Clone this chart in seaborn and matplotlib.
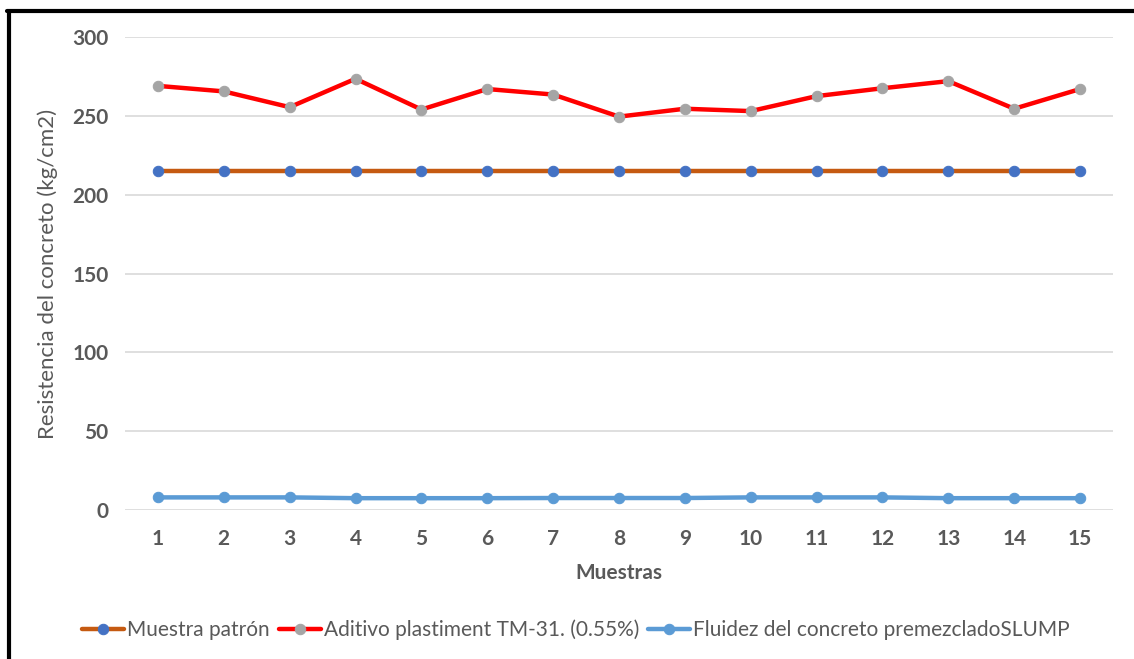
import matplotlib
matplotlib.use("Agg")
import matplotlib.pyplot as plt
from matplotlib.lines import Line2D
import seaborn as sns
import pandas as pd

muestras = list(range(1, 16))
patron = [215] * 15
aditivo = [269, 265.5, 255.5, 273.5, 254, 267, 263.5, 249.5, 254.5, 253, 262.5, 267.5, 272, 254.5, 267]
fluidez = [8.0, 8.0, 8.0, 7.5, 7.5, 7.5, 7.6, 7.6, 7.6, 8.0, 8.0, 8.0, 7.5, 7.5, 7.5]

labels = ["Muestra patrón", "Aditivo plastiment TM-31. (0.55%)", "Fluidez del concreto premezcladoSLUMP"]
y_ticks = [0, 50, 100, 150, 200, 250, 300]

sns.set_theme(style="white")
plt.rcParams["font.family"] = ["Lato", "DejaVu Sans"]

W, H = 1134, 659
fig = plt.figure(figsize=(W / 100, H / 100), dpi=100)
ax = fig.add_axes([125 / W, 1 - 510 / H, (1113 - 125) / W, (510 - 37) / H])

df = pd.DataFrame({"Muestras": muestras, "patron": patron, "aditivo": aditivo, "fluidez": fluidez})

styles = [
    ("patron", "#C55A11", "#4472C4"),
    ("aditivo", "#FF0000", "#A5A5A5"),
    ("fluidez", "#5B9BD5", "#5B9BD5"),
]
for (col, lc, mc), lab in zip(styles, labels):
    sns.lineplot(data=df, x="Muestras", y=col, ax=ax, color=lc, linewidth=3.2,
                 marker="o", markersize=7.5, markerfacecolor=mc, markeredgecolor=mc,
                 label=lab, legend=False)

ax.set_xlim(0.5, 15.5)
ax.set_ylim(0, 300)
ax.set_xticks(muestras)
ax.set_xticklabels([str(m) for m in muestras])
ax.set_yticks(y_ticks)
ax.yaxis.grid(True, color="#D9D9D9", linewidth=1.2)
ax.set_axisbelow(True)
for s in ax.spines.values():
    s.set_visible(False)
ax.tick_params(axis="both", length=0, labelsize=15, labelcolor="#595959")
ax.tick_params(axis="x", pad=14)
ax.tick_params(axis="y", pad=12)
for t in ax.get_xticklabels() + ax.get_yticklabels():
    t.set_fontweight("bold")

ax.set_xlabel("Muestras", fontsize=15, fontweight="bold", color="#595959", labelpad=10)
ax.set_ylabel("Resistencia del concreto (kg/cm2)", fontsize=16, color="#595959", labelpad=10)

handles, labs = ax.get_legend_handles_labels()
leg = fig.legend(handles, labs, loc="center", bbox_to_anchor=(576 / W, 1 - 630 / H),
                 ncol=3, frameon=False, fontsize=15, handlelength=2.0,
                 handletextpad=0.15, columnspacing=0.45, labelcolor="#595959")

# black frame along the left and top edges
fig.add_artist(Line2D([8.5 / W, 8.5 / W], [0, 1 - 11 / H], transform=fig.transFigure, color="black", linewidth=3))
fig.add_artist(Line2D([7 / W, 1], [1 - 11 / H, 1 - 11 / H], transform=fig.transFigure, color="black", linewidth=3))

fig.savefig("out.png", dpi=100, facecolor="white")
